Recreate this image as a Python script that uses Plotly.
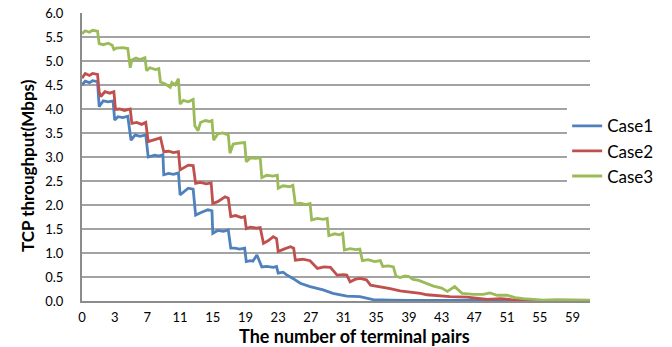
import plotly.graph_objects as go

# ---- data (x in axis position units; 4 units per labelled category step) ----
tick_positions = [0, 4, 8, 12, 16, 20, 24, 28, 32, 36, 40, 44, 48, 52, 56, 60]
tick_labels = ["0", "3", "7", "11", "15", "19", "23", "27", "31", "35", "39", "43", "47", "51", "55", "59"]

case1_x = [0, 0.4, 0.9, 1.3, 1.9, 2.1, 2.3, 2.6, 3.2, 3.8, 4.0, 4.4, 5.0, 5.6, 6.0, 6.5, 7.1, 7.8,
           8.1, 8.9, 9.4, 9.9, 10.0, 10.6, 11.2, 11.8, 12.0, 12.5, 13.0, 13.6, 13.9, 14.5, 15.4, 15.9,
           16.0, 16.6, 17.3, 17.9, 18.2, 18.7, 19.3, 19.9, 20.1, 20.6, 20.9, 21.4, 22.0, 22.6, 23.4, 23.8,
           24.0, 24.6, 25.0, 25.8, 26.7, 27.9, 29.5, 30.7, 32.4, 34.0, 35.6, 37.7, 40, 45, 50, 55, 62.2]
case1_y = [4.50, 4.58, 4.55, 4.59, 4.57, 4.05, 4.10, 4.17, 4.15, 4.17, 3.77, 3.84, 3.82, 3.85, 3.35, 3.46, 3.43, 3.46,
           3.00, 3.04, 3.02, 3.05, 2.63, 2.66, 2.64, 2.67, 2.21, 2.28, 2.35, 2.33, 1.79, 1.84, 1.90, 1.88,
           1.41, 1.47, 1.45, 1.48, 1.10, 1.10, 1.08, 1.10, 0.82, 0.84, 0.83, 0.96, 0.71, 0.72, 0.70, 0.72,
           0.58, 0.60, 0.55, 0.47, 0.37, 0.30, 0.23, 0.16, 0.10, 0.09, 0.03, 0.02, 0.01, 0.01, 0.01, 0.01, 0.01]

case2_x = [0, 0.4, 0.9, 1.3, 1.9, 2.1, 2.3, 2.8, 3.4, 3.9, 4.1, 4.6, 5.2, 5.9, 6.1, 6.7, 7.3, 7.8,
           8.1, 8.7, 9.2, 9.6, 10.0, 10.6, 11.2, 11.8, 12.0, 12.5, 13.0, 13.6, 13.9, 14.5, 15.2, 15.8,
           16.0, 16.6, 17.5, 17.9, 18.2, 18.8, 19.5, 19.9, 20.1, 20.6, 21.3, 21.8, 22.2, 22.8, 23.4, 23.8,
           24.0, 24.7, 25.5, 25.9, 26.1, 27.0, 27.9, 28.8, 29.6, 30.4, 31.2, 32.0, 32.4, 32.8, 33.4, 34.0,
           34.8, 35.3, 36.5, 37.7, 38.9, 39.8, 40.5, 41.4, 42.2, 43.5, 45.0, 47.1, 48.5, 49.6, 51.2, 52.5,
           55.2, 58.0, 62.2]
case2_y = [4.64, 4.74, 4.70, 4.74, 4.72, 4.36, 4.26, 4.36, 4.33, 4.36, 3.99, 4.00, 3.97, 4.00, 3.70, 3.72, 3.68, 3.72,
           3.32, 3.35, 3.37, 3.40, 3.11, 3.12, 3.09, 3.11, 2.73, 2.78, 2.83, 2.82, 2.45, 2.47, 2.44, 2.46,
           2.03, 2.07, 2.17, 2.14, 1.76, 1.78, 1.74, 1.76, 1.51, 1.54, 1.52, 1.53, 1.20, 1.26, 1.34, 1.30,
           1.03, 1.08, 1.13, 1.10, 0.85, 0.87, 0.84, 0.68, 0.71, 0.70, 0.54, 0.55, 0.54, 0.40, 0.45, 0.47,
           0.44, 0.33, 0.30, 0.26, 0.21, 0.19, 0.19, 0.16, 0.13, 0.11, 0.09, 0.08, 0.05, 0.035, 0.05, 0.03,
           0.01, 0.01, 0.01]

case3_x = [0, 0.4, 0.9, 1.3, 1.9, 2.1, 2.6, 3.2, 3.7, 3.9, 4.2, 5.0, 5.6, 5.9, 6.1, 6.6, 7.1, 7.7,
           7.9, 8.3, 9.0, 9.4, 9.6, 10.2, 10.8, 11.0, 11.4, 11.8, 12.0, 12.4, 13.0, 13.6, 13.8, 14.2,
           14.5, 15.1, 15.6, 15.9, 16.1, 16.6, 17.2, 17.9, 18.1, 18.5, 19.2, 19.9, 20.1, 20.6, 21.2, 21.8,
           22.0, 22.6, 23.4, 23.9, 24.0, 24.6, 25.4, 25.8, 26.1, 26.7, 27.4, 27.9, 28.1, 28.8, 29.5, 30.0,
           30.2, 30.9, 31.5, 31.9, 32.1, 32.8, 33.5, 34.0, 34.3, 35.0, 35.8, 36.5, 36.8, 37.5, 38.1, 38.4,
           38.9, 39.5, 40.0, 40.5, 41.2, 42.0, 43.0, 44.0, 44.7, 45.6, 46.5, 47.9, 49.1, 49.9, 50.8, 52.0,
           53.0, 54.0, 55.2, 56.4, 58.0, 60.0, 62.2]
case3_y = [5.57, 5.63, 5.60, 5.64, 5.62, 5.36, 5.34, 5.37, 5.33, 5.24, 5.27, 5.28, 5.26, 4.86, 5.02, 5.06, 5.03, 5.07,
           4.80, 4.86, 4.82, 4.84, 4.56, 4.52, 4.45, 4.55, 4.50, 4.63, 4.10, 4.18, 4.15, 4.20, 3.65, 3.55,
           3.72, 3.76, 3.74, 3.76, 3.35, 3.48, 3.50, 3.46, 3.08, 3.27, 3.29, 3.30, 2.90, 2.98, 2.97, 2.98,
           2.57, 2.62, 2.60, 2.62, 2.35, 2.40, 2.38, 2.41, 2.02, 2.04, 2.01, 2.03, 1.69, 1.72, 1.70, 1.72,
           1.36, 1.40, 1.38, 1.41, 1.06, 1.09, 1.07, 1.08, 0.84, 0.86, 0.82, 0.84, 0.72, 0.73, 0.71, 0.52,
           0.49, 0.52, 0.51, 0.45, 0.43, 0.37, 0.31, 0.27, 0.20, 0.30, 0.16, 0.14, 0.14, 0.17, 0.12, 0.12,
           0.07, 0.05, 0.03, 0.02, 0.03, 0.02, 0.02]

series = [
    ("Case1", case1_x, case1_y, "#4F81BD"),
    ("Case2", case2_x, case2_y, "#C0504D"),
    ("Case3", case3_x, case3_y, "#9BBB59"),
]

fig = go.Figure()
for name, xs, ys, color in series:
    fig.add_trace(go.Scatter(x=xs, y=ys, mode="lines", name=name,
                             line=dict(color=color, width=2.8)))

fig.update_layout(
    width=672, height=347,
    margin=dict(l=82, r=82, t=13, b=46, autoexpand=False),
    plot_bgcolor="white", paper_bgcolor="white",
    font=dict(family="Lato", color="#000000", size=13),
    showlegend=True,
    legend=dict(x=0.955, xanchor="left", y=0.52, yanchor="middle",
                bgcolor="white", font=dict(size=17), borderwidth=0),
    xaxis=dict(range=[0, 62.15], tickvals=tick_positions, ticktext=tick_labels,
               showgrid=False, zeroline=False, showline=True, linecolor="#8c8c8c", linewidth=2,
               ticks="outside", ticklen=3, tickcolor="rgba(0,0,0,0)", tickfont=dict(size=13)),
    yaxis=dict(range=[0, 6], dtick=0.5, tickformat=".1f",
               showgrid=True, gridcolor="#a3a3a3", gridwidth=1.5, zeroline=False,
               showline=True, linecolor="#8c8c8c", linewidth=2,
               ticks="outside", ticklen=14, tickcolor="rgba(0,0,0,0)", tickfont=dict(size=13)),
    annotations=[
        dict(text="<b>TCP throughput(Mbps)</b>", xref="paper", yref="paper",
             x=-0.106, y=0.469, xanchor="center", yanchor="middle",
             textangle=-90, showarrow=False, font=dict(size=17)),
        dict(text="<b>The number of terminal pairs</b>", xref="paper", yref="paper",
             x=0.537, y=-0.122, xanchor="center", yanchor="middle",
             showarrow=False, font=dict(size=18)),
    ],
)

fig.write_html("out.html", post_script="document.body.style.margin='0';",
               config={"displayModeBar": False})
